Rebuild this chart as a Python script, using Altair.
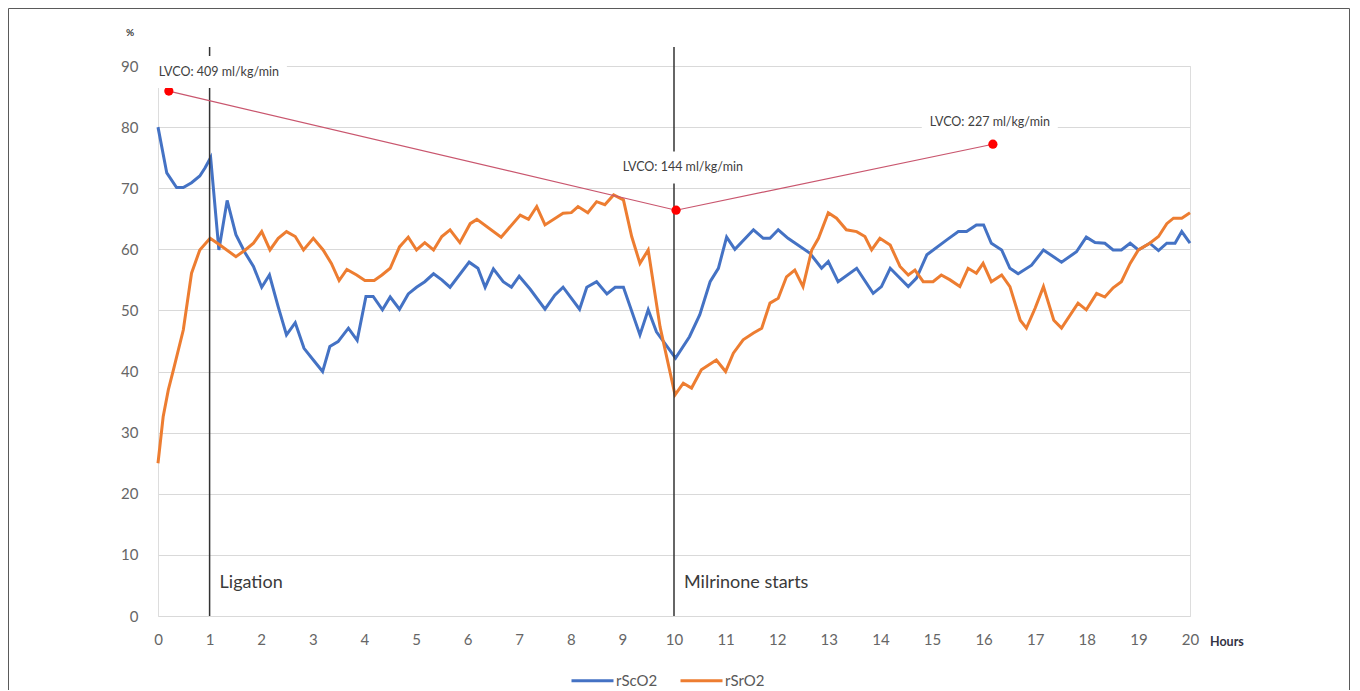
import altair as alt
import pandas as pd

# ---------------- data ----------------
hours_sc = [0.0, 0.17, 0.36, 0.49, 0.65, 0.81, 0.91, 1.02, 1.18, 1.34,
            1.51, 1.69, 1.85, 2.01, 2.16, 2.33, 2.49, 2.66, 2.83, 3.01,
            3.19, 3.33, 3.49, 3.69, 3.86, 4.03, 4.17, 4.35, 4.5, 4.68,
            4.85, 5.01, 5.17, 5.34, 5.5, 5.66, 6.03, 6.2, 6.34, 6.5,
            6.69, 6.85, 7.0, 7.21, 7.5, 7.69, 7.85, 8.17, 8.31, 8.5,
            8.7, 8.86, 9.02, 9.34, 9.5, 9.66, 10.03, 10.3, 10.5, 10.7,
            10.86, 11.02, 11.18, 11.54, 11.73, 11.86, 12.02, 12.21, 12.63, 12.86,
            12.99, 13.18, 13.54, 13.86, 14.02, 14.19, 14.54, 14.7, 14.9, 15.28,
            15.51, 15.67, 15.86, 16.0, 16.15, 16.35, 16.51, 16.67, 16.93, 17.16,
            17.51, 17.8, 17.99, 18.16, 18.35, 18.51, 18.67, 18.84, 19.0, 19.22,
            19.39, 19.55, 19.71, 19.84, 20.0]
rsco2 = [80.0, 72.5, 70.1, 70.1, 70.9, 72.0, 73.3, 75.0, 59.9, 68.0,
         62.4, 59.4, 57.2, 53.8, 55.8, 50.6, 46.0, 48.0, 43.8, 41.9,
         40.0, 44.1, 44.9, 47.1, 45.1, 52.3, 52.3, 50.1, 52.2, 50.2,
         52.7, 53.8, 54.7, 56.0, 55.0, 53.8, 57.9, 56.9, 53.8, 56.8,
         54.7, 53.8, 55.6, 53.5, 50.2, 52.5, 53.8, 50.2, 53.8, 54.7,
         52.7, 53.8, 53.8, 46.0, 50.1, 46.5, 42.2, 45.7, 49.3, 54.7,
         56.9, 62.0, 60.0, 63.2, 61.8, 61.8, 63.2, 61.8, 59.4, 56.9,
         58.0, 54.7, 56.9, 52.8, 53.9, 56.9, 53.9, 55.3, 59.1, 61.5,
         62.9, 62.9, 64.0, 64.0, 61.0, 59.9, 56.9, 56.0, 57.4, 59.9,
         57.9, 59.6, 62.0, 61.1, 61.0, 59.9, 59.9, 61.0, 59.9, 61.0,
         59.8, 61.0, 61.0, 62.9, 61.0]

hours_sr = [0.0, 0.1, 0.2, 0.3, 0.49, 0.65, 0.81, 1.01, 1.2, 1.51,
            1.69, 1.85, 2.01, 2.17, 2.33, 2.49, 2.66, 2.82, 3.01, 3.2,
            3.36, 3.51, 3.66, 3.85, 4.01, 4.19, 4.34, 4.5, 4.68, 4.85,
            5.01, 5.17, 5.34, 5.5, 5.66, 5.85, 6.05, 6.18, 6.65, 7.02,
            7.18, 7.34, 7.5, 7.85, 8.01, 8.14, 8.33, 8.5, 8.66, 8.83,
            9.02, 9.18, 9.34, 9.5, 9.73, 10.02, 10.18, 10.34, 10.53, 10.82,
            11.0, 11.15, 11.34, 11.54, 11.7, 11.86, 12.02, 12.18, 12.34, 12.5,
            12.67, 12.8, 12.99, 13.15, 13.34, 13.54, 13.7, 13.83, 13.99, 14.19,
            14.38, 14.54, 14.67, 14.83, 15.02, 15.18, 15.35, 15.54, 15.7, 15.86,
            15.99, 16.15, 16.35, 16.51, 16.71, 16.83, 17.0, 17.16, 17.36, 17.51,
            17.83, 17.99, 18.19, 18.35, 18.51, 18.67, 18.84, 19.0, 19.22, 19.39,
            19.55, 19.68, 19.84, 20.0]
rsro2 = [25.0, 32.6, 37.0, 40.3, 46.8, 56.1, 59.9, 61.8, 60.7, 58.8,
         59.9, 61.0, 62.9, 59.9, 61.8, 62.9, 62.1, 59.9, 61.8, 59.9,
         57.7, 54.9, 56.7, 55.8, 54.9, 54.9, 55.8, 56.9, 60.4, 62.0,
         59.9, 61.1, 59.9, 62.1, 63.2, 61.1, 64.2, 64.9, 62.0, 65.6,
         64.9, 67.0, 64.0, 65.9, 66.0, 67.0, 66.0, 67.8, 67.3, 68.9,
         68.1, 62.1, 57.7, 59.9, 47.3, 36.2, 38.1, 37.3, 40.3, 41.9,
         40.0, 43.0, 45.2, 46.3, 47.1, 51.2, 52.0, 55.5, 56.6, 53.9,
         59.9, 61.8, 66.0, 65.1, 63.2, 62.9, 62.1, 59.9, 61.8, 60.7,
         57.2, 55.8, 56.6, 54.7, 54.7, 55.8, 55.0, 53.9, 56.9, 56.1,
         57.7, 54.7, 55.8, 53.9, 48.4, 47.1, 50.4, 53.9, 48.4, 47.1,
         51.2, 50.1, 52.8, 52.2, 53.7, 54.7, 57.7, 59.9, 61.0, 62.1,
         64.2, 65.1, 65.1, 66.0]

series_names = ["rScO2", "rSrO2"]
series_colors = ["#4472C4", "#ED7D31"]

lvco_hours = [0.21, 10.04, 16.18]
lvco_level = [85.9, 66.4, 77.2]
lvco_labels = ["LVCO: 409 ml/kg/min", "LVCO: 144 ml/kg/min", "LVCO: 227 ml/kg/min"]
label_hours = [1.18, 10.17, 16.12]
label_level = [89.0, 73.4, 80.9]

event_hours = [1, 10]
event_labels = ["Ligation", "Milrinone starts"]

x_ticks = list(range(0, 21))
y_ticks = list(range(0, 91, 10))

# ---------------- tables ----------------
df = pd.concat([
    pd.DataFrame({"hour": hours_sc, "value": rsco2, "series": series_names[0]}),
    pd.DataFrame({"hour": hours_sr, "value": rsro2, "series": series_names[1]}),
])
lvco = pd.DataFrame({"hour": lvco_hours, "value": lvco_level})
labels = pd.DataFrame({"hour": label_hours, "value": label_level, "text": lvco_labels})
events = pd.DataFrame({"hour": event_hours, "text": event_labels})

W, H = 1032, 550
FONT = "Lato"
xs = alt.Scale(domain=[0, 20], nice=False, zero=False)
ys = alt.Scale(domain=[0, 90], nice=False)

x_axis = alt.Axis(values=x_ticks, grid=False, ticks=False, domain=False,
                  labelColor="#666666", labelFontSize=15, labelPadding=16,
                  labelFlush=False, labelFont=FONT, title=None)
y_axis = alt.Axis(values=y_ticks, grid=True, gridColor="#d9d9d9", gridWidth=1,
                  ticks=False, domain=False, labelColor="#666666",
                  labelFontSize=15, labelPadding=20, labelFont=FONT, title=None)

X = alt.X("hour:Q", scale=xs, axis=x_axis)
Y = alt.Y("value:Q", scale=ys, axis=y_axis)

frame = alt.Chart(events).mark_rect(filled=False, stroke="#5a5a5a", strokeWidth=1).encode(
    x=alt.value(-149.5), x2=alt.value(1191.5), y=alt.value(-57.5), y2=alt.value(720)
).transform_filter("datum.hour == 1")

rules = alt.Chart(events).mark_rule(color="#333333", strokeWidth=1.5).encode(
    x=X, y=alt.value(H), y2=alt.value(-19),
)

event_text = alt.Chart(events).mark_text(
    align="left", baseline="middle", dx=10, fontSize=18, font=FONT, color="#3a3a3a"
).encode(x=X, y=alt.value(517), text="text:N")

lvco_line = alt.Chart(lvco).mark_line(color="#c9566e", strokeWidth=1.2).encode(x=X, y=Y)
lvco_pts = alt.Chart(lvco).mark_point(filled=True, color="#ff0000", size=85,
                                      opacity=1).encode(x=X, y=Y)

boxes = alt.Chart(labels).mark_rect(color="white", width=136, height=32).encode(x=X, y=Y)
box_text = alt.Chart(labels).mark_text(fontSize=12.5, font=FONT, color="#404040",
                                       baseline="middle").encode(x=X, y=Y, text="text:N")

lines = alt.Chart(df).mark_line(strokeWidth=3).encode(
    x=X, y=Y,
    color=alt.Color("series:N",
                    scale=alt.Scale(domain=series_names, range=series_colors),
                    legend=alt.Legend(orient="none", legendX=412, legendY=592,
                                      direction="horizontal", title=None,
                                      symbolType="stroke", symbolStrokeWidth=3,
                                      symbolSize=1764, labelFontSize=15,
                                      labelFont=FONT, labelColor="#595959",
                                      labelOffset=1, columnPadding=16)),
    order="hour:Q",
)

pct = alt.Chart(events).mark_text(fontSize=10, fontWeight="bold", font=FONT,
                                  color="#404040").encode(
    x=alt.value(-28), y=alt.value(-33), text=alt.value("%")
).transform_filter("datum.hour == 1")
hours_txt = alt.Chart(events).mark_text(fontSize=12.5, fontWeight="bold", font=FONT,
                                        color="#333344", align="left",
                                        baseline="middle").encode(
    x=alt.value(1052), y=alt.value(576), text=alt.value("Hours")
).transform_filter("datum.hour == 1")

chart = alt.layer(
    lines, frame, rules, lvco_line, lvco_pts, boxes, box_text, event_text, pct, hours_txt
).properties(
    width=W, height=H,
    autosize=alt.AutoSizeParams(type="none"),
    padding={"left": 150, "top": 58, "right": 160, "bottom": 74},
).configure_view(strokeWidth=0, stroke="transparent").configure_axisX(
    grid=False, domain=False, ticks=False
).configure(background="white")

chart.save("out.html", embed_options={"renderer": "svg", "actions": False})
